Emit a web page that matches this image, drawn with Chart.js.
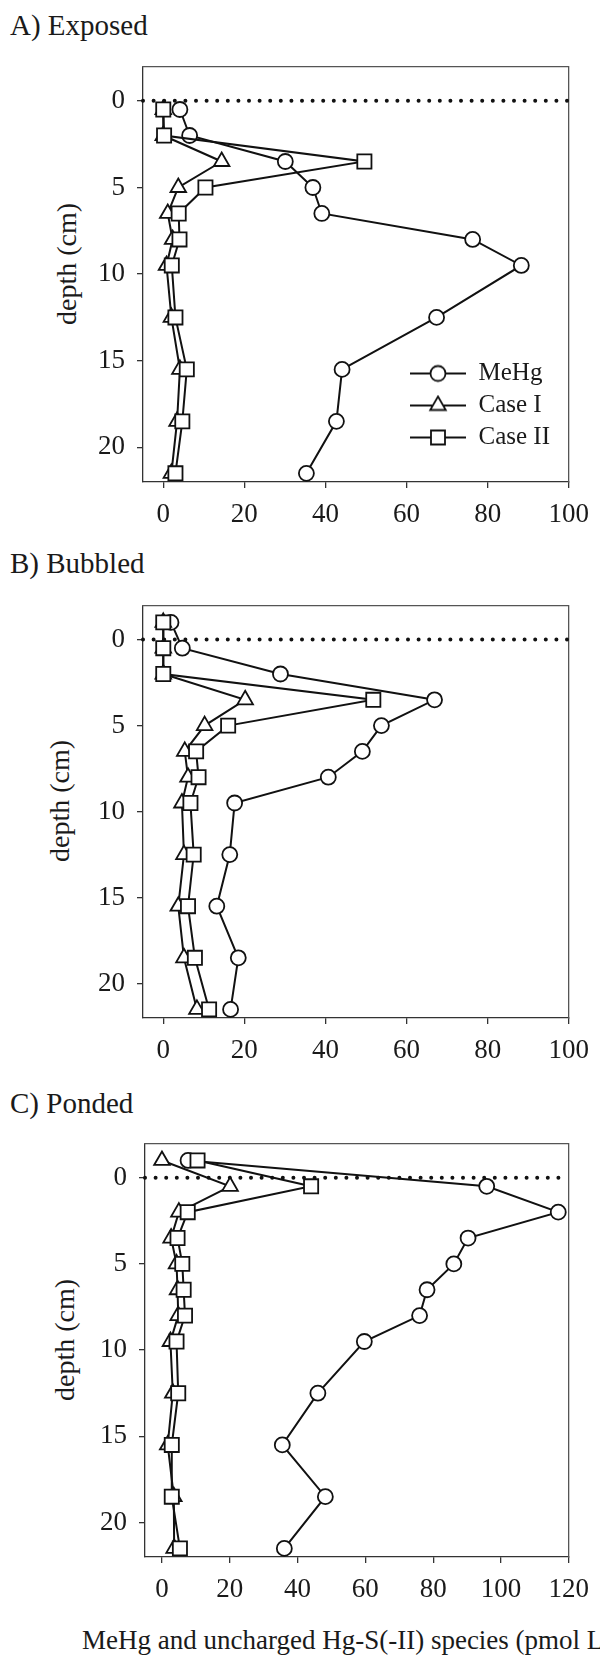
<!DOCTYPE html>
<html>
<head>
<meta charset="utf-8">
<script src="https://cdn.jsdelivr.net/npm/chart.js@4.4.1/dist/chart.umd.min.js"></script>
<style>
html, body { margin: 0; padding: 0; background: #fff; }
body { width: 600px; height: 1661px; position: relative; overflow: hidden; font-family: 'Liberation Serif', 'Times New Roman', serif; color: #1a1a1a; }
canvas { position: absolute; left: 0; }
.ttl { position: absolute; left: 10px; font-size: 29px; line-height: 29px; white-space: nowrap; }
.ylab { position: absolute; width: 200px; height: 30px; line-height: 30px; font-size: 28px; text-align: center; transform: rotate(-90deg); white-space: nowrap; }
.xlab { position: absolute; left: 82px; font-size: 27px; line-height: 27px; white-space: nowrap; }
</style>
</head>
<body>
<div class="ttl" style="top:11px">A) Exposed</div>
<div class="ttl" style="top:549px">B) Bubbled</div>
<div class="ttl" style="top:1089px">C) Ponded</div>
<div class="ylab" style="left:-33px;top:249px">depth (cm)</div>
<div class="ylab" style="left:-40px;top:786px">depth (cm)</div>
<div class="ylab" style="left:-35px;top:1325px">depth (cm)</div>
<div class="xlab" style="top:1627px">MeHg and uncharged Hg-S(-II) species (pmol L⁻¹)</div>

<canvas id="chartA" width="600" height="494" style="top:38px"></canvas>
<canvas id="chartB" width="600" height="491" style="top:577px"></canvas>
<canvas id="chartC" width="600" height="492" style="top:1115px"></canvas>

<script>
// depth of each sample (cm)
var depthA = [0.5, 2, 3.5, 5, 6.5, 8, 9.5, 12.5, 15.5, 18.5, 21.5];
var depthB = [-1, 0.5, 2, 3.5, 5, 6.5, 8, 9.5, 12.5, 15.5, 18.5, 21.5];
var depthC = [-1, 0.5, 2, 3.5, 5, 6.5, 8, 9.5, 12.5, 15.5, 18.5, 21.5];

// A) Exposed
var mehgA   = [4.1, 6.5, 30.1, 36.9, 39.1, 76.3, 88.3, 67.4, 44.1, 42.7, 35.3];
var caseIA  = [0, 0, 14.4, 3.7, 1.1, 2.3, 0.8, 2.0, 4.1, 3.4, 2.0];
var caseIIA = [0, 0.2, 49.6, 10.4, 3.8, 4.0, 2.1, 3.0, 5.8, 4.7, 3.0];

// B) Bubbled
var mehgB   = [1.9, 4.7, 28.9, 66.9, 53.8, 49.1, 40.7, 17.6, 16.4, 13.2, 18.5, 16.6];
var caseIB  = [0, 0, 0, 20.2, 10.2, 5.3, 6.1, 4.6, 5.1, 3.7, 5.1, 8.3];
var caseIIB = [0, 0, 0, 51.8, 16.0, 8.1, 8.7, 6.7, 7.5, 6.1, 7.8, 11.3];

// C) Ponded
var mehgC   = [7.7, 95.8, 116.9, 90.3, 86.1, 78.2, 76.0, 59.7, 46.0, 35.5, 48.2, 36.1];
var caseIC  = [0, 20.1, 5.0, 2.7, 4.3, 4.6, 4.8, 2.5, 3.2, 1.7, 3.5, 3.6];
var caseIIC = [10.5, 44.0, 7.6, 4.6, 6.0, 6.4, 6.8, 4.3, 4.8, 2.9, 2.9, 5.3];

// axis ticks
var xTicksAB = [0, 20, 40, 60, 80, 100];
var xTicksC  = [0, 20, 40, 60, 80, 100, 120];
var yTicks   = [0, 5, 10, 15, 20];
var seriesNames = ['MeHg', 'Case I', 'Case II'];

var FONT = "'Liberation Serif', 'Times New Roman', serif";
var INK = '#111';

function pts(depth, vals) {
	return vals.map(function(v, i) { return { x: v, y: depth[i] }; });
}

// small line+marker glyphs for the legend
function legendIcon(kind) {
	var c = document.createElement('canvas');
	c.width = 56; c.height = 22;
	var g = c.getContext('2d');
	g.strokeStyle = INK; g.lineWidth = 2;
	g.beginPath(); g.moveTo(0, 11); g.lineTo(56, 11); g.stroke();
	g.fillStyle = '#fff'; g.lineWidth = 1.8;
	g.beginPath();
	if (kind == 'circle') g.arc(28, 11, 7.5, 0, Math.PI * 2);
	if (kind == 'triangle') { g.moveTo(28, 2); g.lineTo(35.8, 15.5); g.lineTo(20.2, 15.5); g.closePath(); }
	if (kind == 'rect') g.rect(21, 4, 14, 14);
	g.fill(); g.stroke();
	return c;
}
var legendIcons = [legendIcon('circle'), legendIcon('triangle'), legendIcon('rect')];

// put the legend inside the plot (bottom right)
var moveLegend = {
	id: 'moveLegend',
	afterLayout: function(chart, args, opts) {
		var lg = chart.legend;
		if (!lg || opts.x == null) return;
		lg.left = opts.x; lg.top = opts.y;
		lg.right = opts.x + lg.width; lg.bottom = opts.y + lg.height;
	}
};

function series(label, data, style, radius, order) {
	return {
		label: label,
		data: data,
		showLine: true,
		borderColor: INK,
		borderWidth: 2,
		pointStyle: style,
		pointRadius: radius,
		pointHoverRadius: radius,
		pointBackgroundColor: '#fff',
		pointBorderColor: INK,
		pointBorderWidth: 1.8,
		tension: 0,
		clip: false,
		order: order
	};
}

function makePanel(p) {
	var frame = { display: true, color: '#555', width: 1.3 };
	var ctx = document.getElementById(p.id).getContext('2d');
	return new Chart(ctx, {
		type: 'scatter',
		data: {
			datasets: [
				series(seriesNames[0], pts(p.depth, p.mehg), 'circle', 7.5, 3),
				series(seriesNames[1], pts(p.depth, p.case1), 'triangle', 9, 2),
				series(seriesNames[2], pts(p.depth, p.case2), 'rect', 10, 1),
				{
					// dotted line at the sediment surface (depth 0)
					label: 'surface',
					data: [{ x: -5, y: 0 }, { x: p.xMax, y: 0 }],
					showLine: true,
					borderColor: '#111',
					borderWidth: 4,
					borderDash: [0, 10.6],
					borderCapStyle: 'round',
					pointRadius: 0,
					clip: false,
					order: 10
				}
			]
		},
		options: {
			responsive: false,
			animation: false,
			events: [],
			layout: { autoPadding: false, padding: { top: 8, right: 600 - p.right, left: 0, bottom: 0 } },
			scales: {
				x: {
					type: 'linear', position: 'bottom', min: -5, max: p.xMax,
					grid: { display: true, drawOnChartArea: false, drawTicks: true, tickLength: 6, color: '#333', lineWidth: 1.3 },
					border: { display: true, color: '#333', width: 1.3 },
					ticks: { font: { family: FONT, size: 27 }, color: '#1a1a1a', padding: 11, maxRotation: 0, autoSkip: false },
					afterBuildTicks: function(ax) { ax.ticks = p.xTicks.map(function(v) { return { value: v }; }); },
					afterFit: function(ax) { ax.height = 50; }
				},
				y: {
					type: 'linear', position: 'left', min: -2, max: 22, reverse: true,
					grid: { display: true, drawOnChartArea: false, drawTicks: true, tickLength: 6, color: '#333', lineWidth: 1.3 },
					border: { display: true, color: '#333', width: 1.3 },
					ticks: { font: { family: FONT, size: 27 }, color: '#1a1a1a', padding: 12 },
					afterBuildTicks: function(ax) { ax.ticks = yTicks.map(function(v) { return { value: v }; }); },
					afterFit: function(ax) { ax.width = p.left; }
				},
				x2: {
					type: 'linear', position: 'top', min: -5, max: p.xMax,
					grid: { display: false }, ticks: { display: false }, border: frame,
					afterFit: function(ax) { ax.height = 0; }
				},
				y2: {
					type: 'linear', position: 'right', min: -2, max: 22, reverse: true,
					grid: { display: false }, ticks: { display: false }, border: frame,
					afterFit: function(ax) { ax.width = 0; }
				}
			},
			plugins: {
				tooltip: { enabled: false },
				legend: {
					display: !!p.legend,
					position: 'chartArea',
					align: 'start',
					labels: {
						usePointStyle: true,
						pointStyleWidth: 56,
						padding: 7,
						color: '#1a1a1a',
						font: { family: FONT, size: 25 },
						filter: function(item) { return item.datasetIndex < 3; },
						sort: function(a, b) { return a.datasetIndex - b.datasetIndex; },
						generateLabels: function(chart) {
							return Chart.defaults.plugins.legend.labels.generateLabels(chart).map(function(l) {
								if (l.datasetIndex < 3) l.pointStyle = legendIcons[l.datasetIndex];
								return l;
							});
						}
					}
				},
				moveLegend: p.legend ? { x: 403, y: 316 } : {}
			}
		},
		plugins: [moveLegend]
	});
}

makePanel({ id: 'chartA', left: 143, right: 578, xMax: 100, xTicks: xTicksAB, depth: depthA, mehg: mehgA, case1: caseIA, case2: caseIIA, legend: true });
makePanel({ id: 'chartB', left: 143, right: 578, xMax: 100, xTicks: xTicksAB, depth: depthB, mehg: mehgB, case1: caseIB, case2: caseIIB });
makePanel({ id: 'chartC', left: 145, right: 581, xMax: 120, xTicks: xTicksC, depth: depthC, mehg: mehgC, case1: caseIC, case2: caseIIC });
</script>
</body>
</html>
